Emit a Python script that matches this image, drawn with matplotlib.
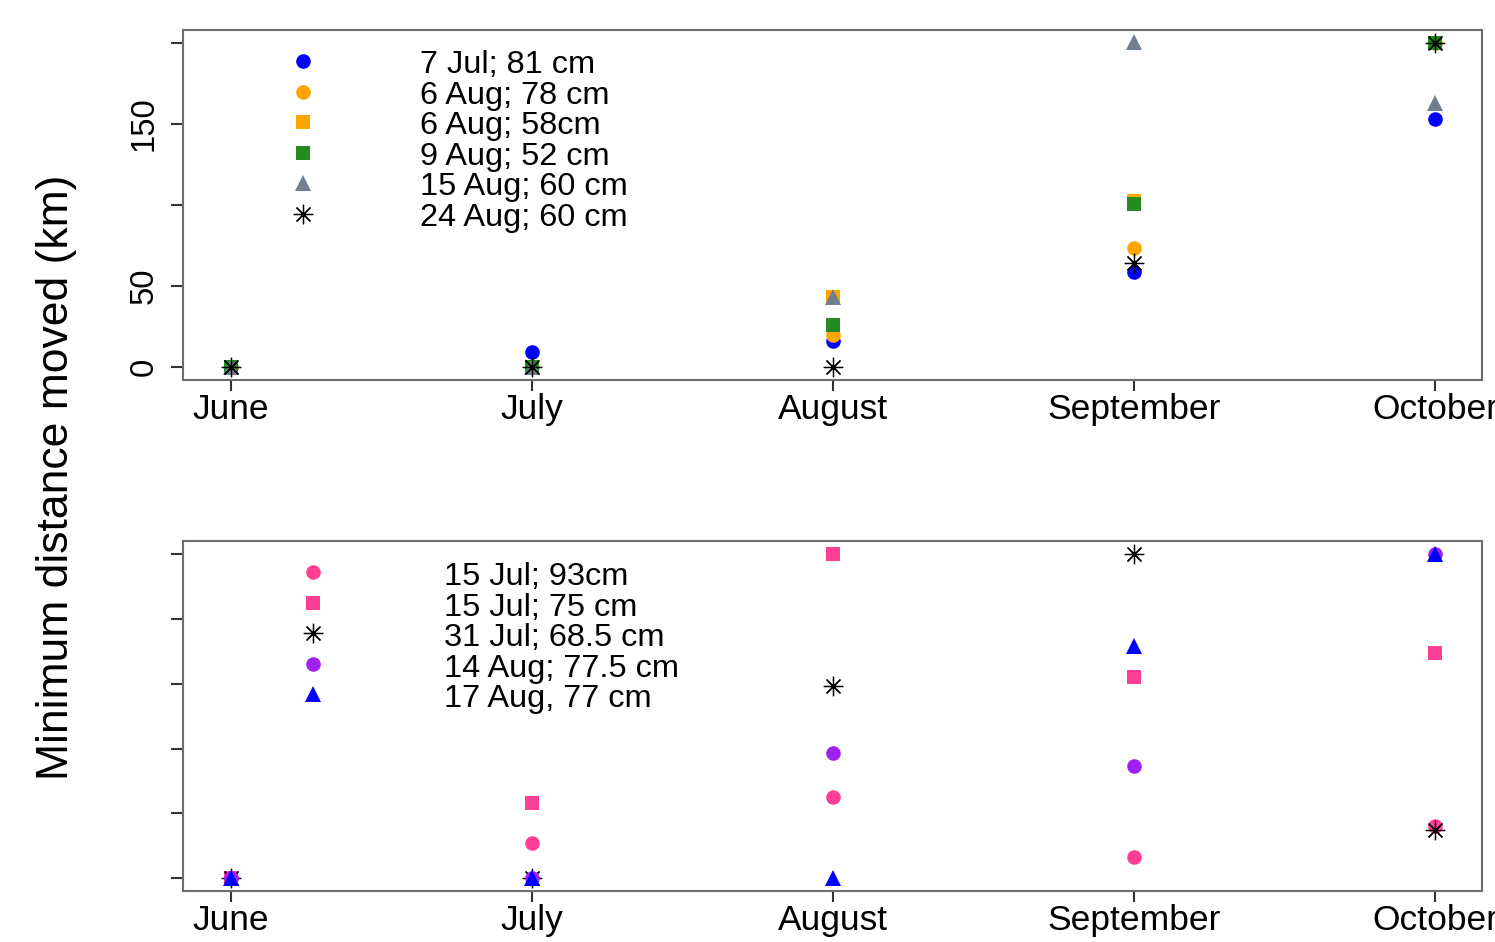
import numpy as np
import matplotlib
matplotlib.use("Agg")
import matplotlib.pyplot as plt

plt.rcParams['font.family'] = ['Liberation Sans', 'DejaVu Sans']

months = ["June", "July", "August", "September", "October"]

# upper panel: fish tagged Jul/Aug
top_labels = ["7 Jul; 81 cm", "6 Aug; 78 cm", "6 Aug; 58cm", "9 Aug; 52 cm",
              "15 Aug; 60 cm", "24 Aug; 60 cm"]
top_jul7_81 = [0, 9.3, 16, 58.8, 153]
top_aug6_78 = [0, 0, 19.8, 73.3, 200]
top_aug6_58 = [0, 0, 43.5, 102.5, 200]
top_aug9_52 = [0, 0, 26, 100.6, 200]
top_aug15_60 = [0, 0, 43.5, 200.5, 163]
top_aug24_60 = [0, 0, 0, 64, 200]

# lower panel
bot_labels = ["15 Jul; 93cm", "15 Jul; 75 cm", "31 Jul; 68.5 cm",
              "14 Aug; 77.5 cm", "17 Aug, 77 cm"]
bot_jul15_93 = [0, 26.8, 63, 16, 40.5]
bot_jul15_75 = [0, 58, 250, 155, 174]
bot_jul31_685 = [0, 0, 148, 250, 37]
bot_aug14_775 = [0, 0, 97, 86.5, 250]
bot_aug17_77 = [0, 0, 0, 179, 250.5]

top_series = [top_jul7_81, top_aug6_78, top_aug6_58, top_aug9_52, top_aug15_60, top_aug24_60]
top_styles = [("o", "#0000FF", 10.5), ("o", "#FFA500", 10.5), ("s", "#FFA500", 9.5),
              ("s", "#228B22", 9.5), ("^", "#708090", 12), ((8, 2, 0), "black", 14)]
bot_series = [bot_jul15_93, bot_jul15_75, bot_jul31_685, bot_aug14_775, bot_aug17_77]
bot_styles = [("o", "#FF3E96", 10.5), ("s", "#FF3E96", 9.5), ((8, 2, 0), "black", 14),
              ("o", "#A020F0", 10.5), ("^", "#0000FF", 12)]

x = np.arange(1, len(months) + 1)

fig = plt.figure(figsize=(14.95, 9.42), dpi=100)
ax1 = fig.add_axes([0.1224, 0.5966, 0.8689, 0.3716])
ax2 = fig.add_axes([0.1224, 0.0541, 0.8689, 0.3716])


def draw_marker(ax, xs, ys, style, **kw):
    m, c, ms = style
    if isinstance(m, tuple):
        ax.plot(xs, ys, linestyle="none", marker=m, color=c, markersize=ms,
                markeredgewidth=0.9, **kw)
    else:
        ax.plot(xs, ys, linestyle="none", marker=m, color=c, markersize=ms,
                markeredgewidth=0, **kw)


def panel(ax, series, styles, labels, leg_mx, leg_tx, text_drop):
    for ys, st in zip(series, styles):
        draw_marker(ax, x, ys, st, clip_on=False)
    # key in the upper-left corner
    for i, (lab, st) in enumerate(zip(labels, styles)):
        yy = 0.911 - i * 0.0871
        draw_marker(ax, [leg_mx], [yy], st, transform=ax.transAxes, clip_on=False)
        ax.text(leg_tx, yy - text_drop, lab, transform=ax.transAxes, fontsize=23.4,
                va="center", ha="left")
    ax.set_xlim(0.84, 5.156)
    ax.set_xticks(x)
    ax.set_xticklabels(months, fontsize=25.5)
    for sp in ax.spines.values():
        sp.set_color("#6e6e6e")
        sp.set_linewidth(1.5)
    ax.tick_params(axis="x", length=8, width=1.5, color="#333333", pad=1)
    ax.tick_params(axis="y", length=9, width=1.5, color="#333333", pad=8)


panel(ax1, top_series, top_styles, top_labels, 0.0924, 0.1824, 0.012)
ax1.set_ylim(-8, 208)
ax1.set_yticks([0, 50, 100, 150, 200])
ax1.set_yticklabels(["0", "50", "", "150", ""], fontsize=23.7,
                    rotation=90, va="center")

panel(ax2, bot_series, bot_styles, bot_labels, 0.1001, 0.2009, 0.014)
ax2.set_ylim(-10, 260.4)
ax2.set_yticks([0, 50, 100, 150, 200, 250])
ax2.set_yticklabels([])

fig.text(0.038, 0.493, "Minimum distance moved (km)", rotation=90,
         fontsize=32, ha="center", va="center")

fig.savefig("out.png", dpi=100)
